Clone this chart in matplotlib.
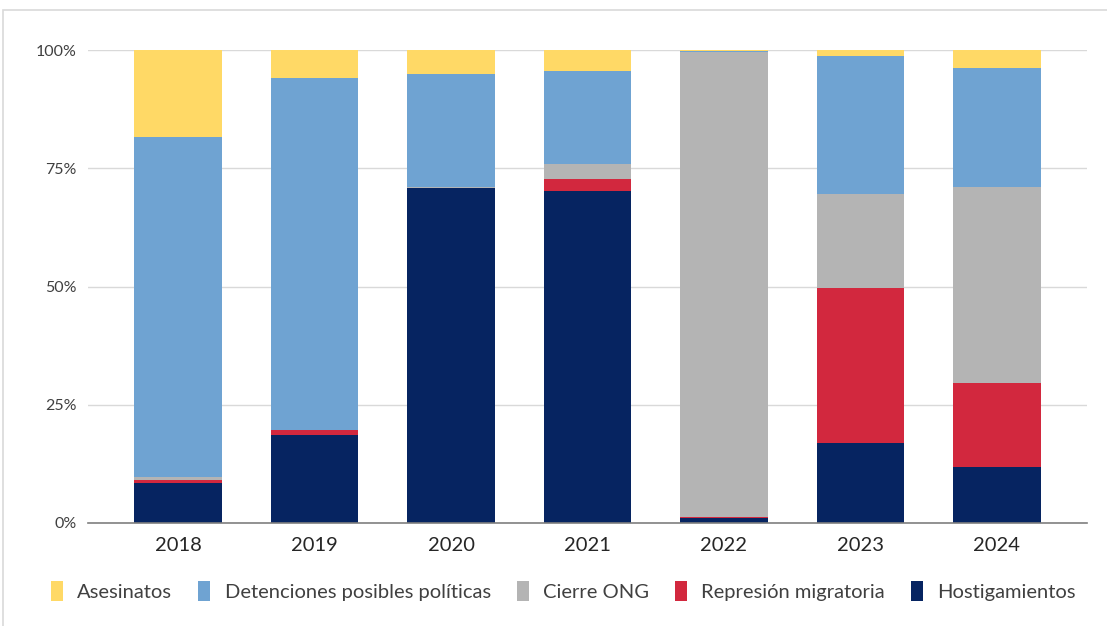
import matplotlib
matplotlib.use("Agg")
import matplotlib.pyplot as plt
from matplotlib.patches import Rectangle
import numpy as np

years = ["2018", "2019", "2020", "2021", "2022", "2023", "2024"]
series_names = ["Hostigamientos", "Represión migratoria", "Cierre ONG",
                "Detenciones posibles políticas", "Asesinatos"]
hostigamientos = [8.5, 18.7, 70.8, 70.2, 1.0, 16.9, 11.8]
represion = [0.6, 1.0, 0.0, 2.5, 0.3, 32.8, 17.8]
cierre_ong = [0.6, 0.0, 0.3, 3.3, 98.3, 19.9, 41.4]
detenciones = [71.9, 74.4, 23.8, 19.6, 0.2, 29.1, 25.2]
asesinatos = [18.4, 5.9, 5.1, 4.4, 0.2, 1.3, 3.8]
yticks = [0, 25, 50, 75, 100]
ytick_labels = ["0%", "25%", "50%", "75%", "100%"]

colors = {
    "Hostigamientos": "#062461",
    "Represión migratoria": "#D2283E",
    "Cierre ONG": "#B4B4B4",
    "Detenciones posibles políticas": "#6FA3D2",
    "Asesinatos": "#FFD966",
}
data = {
    "Hostigamientos": hostigamientos,
    "Represión migratoria": represion,
    "Cierre ONG": cierre_ong,
    "Detenciones posibles políticas": detenciones,
    "Asesinatos": asesinatos,
}

plt.rcParams['font.family'] = ['Lato', 'DejaVu Sans']

fig = plt.figure(figsize=(11.07, 6.26), dpi=100)
ax = fig.add_axes([88/1107, 1 - 523/626, (1087-88)/1107, (523-50)/626])

x = np.arange(len(years))
bottom = np.zeros(len(years))
handles = {}
totals = np.array([sum(data[n][i] for n in series_names) for i in range(len(years))])
for name in series_names:
    vals = np.array(data[name], dtype=float)
    pct = vals / totals * 100
    b = ax.bar(x, pct, width=0.64, bottom=bottom, color=colors[name], label=name, zorder=3)
    handles[name] = b
    bottom += pct

ax.set_xlim(-0.66, 6.66)
ax.set_ylim(0, 100)
ax.set_yticks(yticks)
ax.set_yticklabels(ytick_labels, fontsize=11.5, color="#404040")
ax.set_xticks(x)
ax.set_xticklabels(years, fontsize=14.5, color="#262626")
ax.yaxis.grid(True, color="#D9D9D9", linewidth=1, zorder=0)
ax.set_axisbelow(True)
for s in ["top", "right", "left"]:
    ax.spines[s].set_visible(False)
ax.spines["bottom"].set_color("#7F7F7F")
ax.spines["bottom"].set_linewidth(1.2)
ax.spines["bottom"].set_zorder(4)
ax.tick_params(axis="both", length=0)
ax.tick_params(axis="x", pad=10)
ax.tick_params(axis="y", pad=8)

order = ["Asesinatos", "Detenciones posibles políticas", "Cierre ONG",
         "Represión migratoria", "Hostigamientos"]
leg = fig.legend([handles[n] for n in order], order, loc="center",
                 bbox_to_anchor=(0.509, 1 - 591/626), ncol=5, frameon=False,
                 fontsize=14.5, handlelength=0.6, handleheight=1.1,
                 handletextpad=0.7, columnspacing=1.3)
for t in leg.get_texts():
    t.set_color("#404040")

fig.patches.append(Rectangle((3/1107, -0.1), 1.2, (1 - 10/626) + 0.1,
                             transform=fig.transFigure, fill=False,
                             edgecolor="#D9D9D9", linewidth=1.2))

fig.savefig("out.png", dpi=100)
